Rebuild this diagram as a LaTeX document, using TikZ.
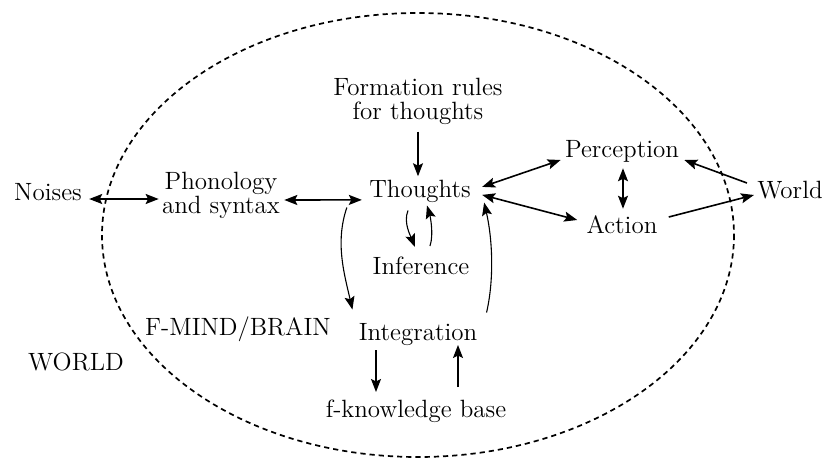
\documentclass[tikz,border=0pt]{standalone}
\usepackage{tikz}
\usetikzlibrary{positioning, arrows.meta}

\begin{document}
\begin{tikzpicture}[x=0.5pt, y=-0.5pt, >={Stealth[length=6.5pt, width=5pt, inset=1.2pt]},
        every node/.style={font=\fontsize{12.5}{12}\selectfont, inner sep=0pt}]
        \useasboundingbox (0,0) rectangle (827,461);
        \draw[dashed, dash pattern=on 2.6pt off 2pt, line width=0.85pt] (418,235) ellipse [x radius=316, y radius=222];

        \node[anchor=base]                  (noises)      at (48,200)  {Noises};
        \node[align=center]                 (phonology)   at (221,195) {Phonology\\and syntax};
        \node[anchor=base]                  (thoughts)    at (420,197) {Thoughts};
        \node[align=center]                 (rules)       at (418,101) {Formation rules\\for thoughts};
        \node[anchor=base]                  (inference)   at (421,274) {Inference};
        \node[anchor=base]                  (integration) at (418,340) {Integration};
        \node[anchor=base]                  (kbase)       at (416,417) {f-knowledge base};
        \node[anchor=base]                  (mind)        at (238,335) {F-MIND/BRAIN};
        \node[anchor=base]                  (outer)       at (76,370)  {WORLD};
        \node[anchor=base]                  (perception)  at (622,157) {Perception};
        \node[anchor=base]                  (action)      at (622,233) {Action};
        \node[anchor=base]                  (world)       at (790,198) {World};

        \draw[<->, line width=0.8pt] ([shift={(7,-1)}]noises.base east) -- ([shift={(-3,4)}]phonology.west);
        \draw[<->, line width=0.8pt] ([shift={(4,5)}]phonology.east) -- ([shift={(-7,9)}]thoughts.west);
        \draw[->, line width=0.6pt]  ([shift={(0,7)}]rules.south) -- ([shift={(-2,-3)}]thoughts.north);
        \draw[<->, line width=0.8pt] ([shift={(11,-4)}]thoughts.east) -- ([shift={(-4,3)}]perception.base west);
        \draw[<->, line width=0.8pt] ([shift={(11,4)}]thoughts.east) -- ([shift={(-9,-13)}]action.base west);
        \draw[<->, line width=0.8pt] ([shift={(1,6)}]perception.south) -- ([shift={(1,-6)}]action.north);
        \draw[->, line width=0.8pt]  ([shift={(-10,-15)}]world.base west) -- ([shift={(5,3)}]perception.base east);
        \draw[->, line width=0.8pt]  ([shift={(11,-16)}]action.base east) -- ([shift={(-3,-3)}]world.base west);
        \draw[->, line width=0.55pt] ([shift={(-12,8)}]thoughts.south) .. controls +(-5,12) and +(-4,-10) .. ([shift={(-6,-9)}]inference.north);
        \draw[->, line width=0.55pt] ([shift={(9,-10)}]inference.north) .. controls +(4,-12) and +(3,10) .. ([shift={(7,3)}]thoughts.south);
        \draw[->, line width=0.55pt] ([shift={(-22,5)}]thoughts.south west) .. controls +(-12,35) and +(-8,-35) .. ([shift={(-6,-13)}]integration.north west);
        \draw[->, line width=0.55pt] ([shift={(9,-10)}]integration.north east) .. controls +(8,-35) and +(8,35) .. ([shift={(13,0)}]thoughts.south east);
        \draw[->, line width=0.6pt]  ([shift={(-42,10)}]integration.base) -- ([shift={(-40,-7)}]kbase.north);
        \draw[->, line width=0.6pt]  ([shift={(42,-12)}]kbase.north) -- ([shift={(40,5)}]integration.base);
\end{tikzpicture}
\end{document}
